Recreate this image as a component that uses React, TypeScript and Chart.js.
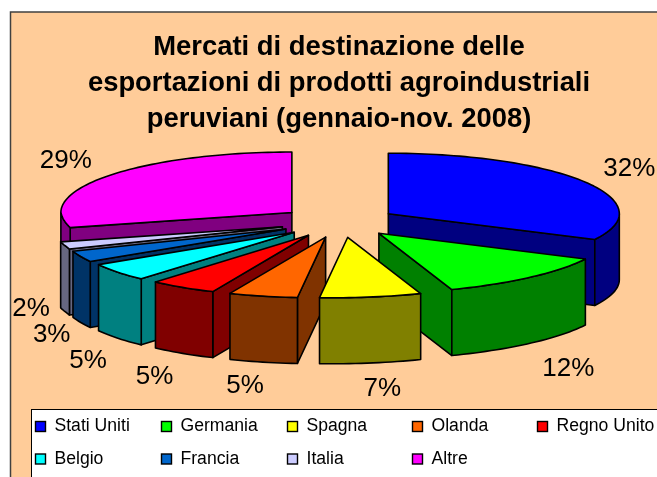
import React, { useEffect, useRef } from "react";
import { Chart, registerables } from "chart.js";

Chart.register(...registerables);

const titleLines = [
  "Mercati di destinazione delle",
  "esportazioni di prodotti agroindustriali",
  "peruviani (gennaio-nov. 2008)",
];
const categories = ["Stati Uniti", "Germania", "Spagna", "Olanda", "Regno Unito", "Belgio", "Francia", "Italia", "Altre"];
const shares = [32, 12, 7, 5, 5, 5, 3, 2, 29];
const topColors = ["#0000ff", "#00ff00", "#ffff00", "#ff6600", "#ff0000", "#00ffff", "#0066cc", "#ccccff", "#ff00ff"];
const sideColors = ["#000080", "#008000", "#808000", "#803300", "#800000", "#008080", "#003366", "#666680", "#800080"];
const paintOrder = [0, 8, 7, 6, 5, 1, 4, 3, 2];
const labelNudgeX = [8, 8, 5, -8, -5, 4, 11, 9, -8];
const labelNudgeY = [-1, 9, 4, 2, 4, 8, 2, -9, -1];

const FONT = "'Liberation Sans', Arial, sans-serif";
const CX = 338.5;
const CY = 222;
const SQUASH = 0.262;
const DEPTH = 66;

function rimShift(a: number) {
  const s = Math.sin(a);
  if (s <= 0) return 0;
  return -14 * s * s + 4 * Math.max(0, -Math.cos(a)) * Math.min(1, 3 * s);
}

const perPlugin = {
  id: "pie3d",
  beforeDraw(chart: any) {
    const ctx = chart.ctx;
    ctx.save();
    ctx.fillStyle = "#ffffff";
    ctx.fillRect(0, 0, 657, 477);
    ctx.fillStyle = "#ffcc99";
    ctx.strokeStyle = "#404040";
    ctx.lineWidth = 1.5;
    ctx.fillRect(10.5, 12, 660, 480);
    ctx.strokeRect(10.5, 12, 660, 480);
    ctx.restore();
  },
  beforeDatasetDraw(chart: any) {
    const ctx = chart.ctx;
    const arcs = chart.getDatasetMeta(0).data;
    ctx.save();
    ctx.lineWidth = 1.6;
    ctx.lineJoin = "round";
    ctx.strokeStyle = "#000000";
    for (const i of paintOrder) {
      const el = arcs[i];
      const a0 = el.startAngle;
      const a1 = el.endAngle;
      const r = el.outerRadius;
      const mid = (a0 + a1) / 2;
      const d = el.options.offset / 4;
      const ax = CX + Math.cos(mid) * d;
      const ay = CY + Math.sin(mid) * d * SQUASH;
      const rim = (a: number): [number, number] => [
        ax + r * Math.cos(a) + rimShift(a),
        ay + r * SQUASH * Math.sin(a),
      ];
      const quad = (p: [number, number]) => {
        ctx.beginPath();
        ctx.moveTo(ax, ay);
        ctx.lineTo(p[0], p[1]);
        ctx.lineTo(p[0], p[1] + DEPTH);
        ctx.lineTo(ax, ay + DEPTH);
        ctx.closePath();
        ctx.fillStyle = sideColors[i];
        ctx.fill();
        ctx.stroke();
      };
      if (Math.cos(a0) < -1e-6) quad(rim(a0));
      if (Math.cos(a1) > 1e-6) quad(rim(a1));
      const s0 = Math.max(a0, 0);
      const s1 = Math.min(a1, Math.PI);
      const step = Math.PI / 120;
      const sample = (from: number, to: number) => {
        const n = Math.max(1, Math.ceil((to - from) / step));
        const pts: [number, number][] = [];
        for (let k = 0; k <= n; k++) pts.push(rim(from + ((to - from) * k) / n));
        return pts;
      };
      if (s1 > s0) {
        const pts = sample(s0, s1);
        ctx.beginPath();
        pts.forEach((p, k) => (k ? ctx.lineTo(p[0], p[1]) : ctx.moveTo(p[0], p[1])));
        [...pts].reverse().forEach((p) => ctx.lineTo(p[0], p[1] + DEPTH));
        ctx.closePath();
        ctx.fillStyle = sideColors[i];
        ctx.fill();
        ctx.stroke();
      }
      const top = sample(a0, a1);
      ctx.beginPath();
      ctx.moveTo(ax, ay);
      top.forEach((p) => ctx.lineTo(p[0], p[1]));
      ctx.closePath();
      ctx.fillStyle = topColors[i];
      ctx.fill();
      ctx.stroke();
    }
    ctx.restore();
    return false;
  },
  afterDraw(chart: any) {
    const ctx = chart.ctx;
    const arcs = chart.getDatasetMeta(0).data;
    const values = chart.data.datasets[0].data;
    ctx.save();
    ctx.fillStyle = "#000000";
    ctx.font = `26px ${FONT}`;
    ctx.textAlign = "center";
    ctx.textBaseline = "middle";
    arcs.forEach((el: any, i: number) => {
      const mid = (el.startAngle + el.endAngle) / 2;
      const d = el.options.offset / 4;
      const ax = CX + Math.cos(mid) * d;
      const ay = CY + Math.sin(mid) * d * SQUASH;
      const x = ax + el.outerRadius * Math.cos(mid) + rimShift(mid) + 45 * Math.cos(mid);
      const y = ay + el.outerRadius * SQUASH * Math.sin(mid) + (Math.sin(mid) > 0 ? DEPTH : 0) + 22 * Math.sin(mid);
      ctx.fillText(`${values[i]}%`, x + labelNudgeX[i], y + labelNudgeY[i]);
    });
    // legend box
    ctx.fillStyle = "#ffffff";
    ctx.strokeStyle = "#000000";
    ctx.lineWidth = 1;
    ctx.fillRect(31.5, 409.5, 640, 80);
    ctx.strokeRect(31.5, 409.5, 640, 80);
    const colX = [35.5, 161.5, 287.5, 412.5, 537.5];
    const rowY = [426.5, 459];
    ctx.font = `17.6px ${FONT}`;
    ctx.textAlign = "left";
    ctx.lineWidth = 1.4;
    chart.data.labels.forEach((label: string, i: number) => {
      const x = colX[i % 5];
      const y = rowY[Math.floor(i / 5)];
      ctx.fillStyle = topColors[i];
      ctx.fillRect(x, y - 5, 10, 10);
      ctx.strokeRect(x, y - 5, 10, 10);
      ctx.fillStyle = "#000000";
      ctx.fillText(label, x + 19, y);
    });
    ctx.restore();
  },
};

export default function App() {
  const ref = useRef<HTMLCanvasElement>(null);
  useEffect(() => {
    const chart = new Chart(ref.current as HTMLCanvasElement, {
      type: "pie",
      data: {
        labels: categories,
        datasets: [{ data: shares, backgroundColor: topColors, offset: 236, borderWidth: 0 }],
      },
      options: {
        responsive: false,
        animation: false,
        radius: 231,
        events: [],
        layout: { padding: { left: 21, top: 29 } },
        plugins: {
          legend: { display: false },
          tooltip: { enabled: false },
          title: {
            display: true,
            text: titleLines,
            color: "#000000",
            font: { family: FONT, size: 27.4, weight: "bold", lineHeight: 1.32 },
            padding: { top: 0, bottom: 0 },
          },
        },
      },
      plugins: [perPlugin],
    } as any);
    return () => chart.destroy();
  }, []);
  return (
    <div style={{ position: "fixed", left: 0, top: 0, width: 657, height: 477, overflow: "hidden" }}>
      <canvas ref={ref} width={657} height={477} />
    </div>
  );
}
